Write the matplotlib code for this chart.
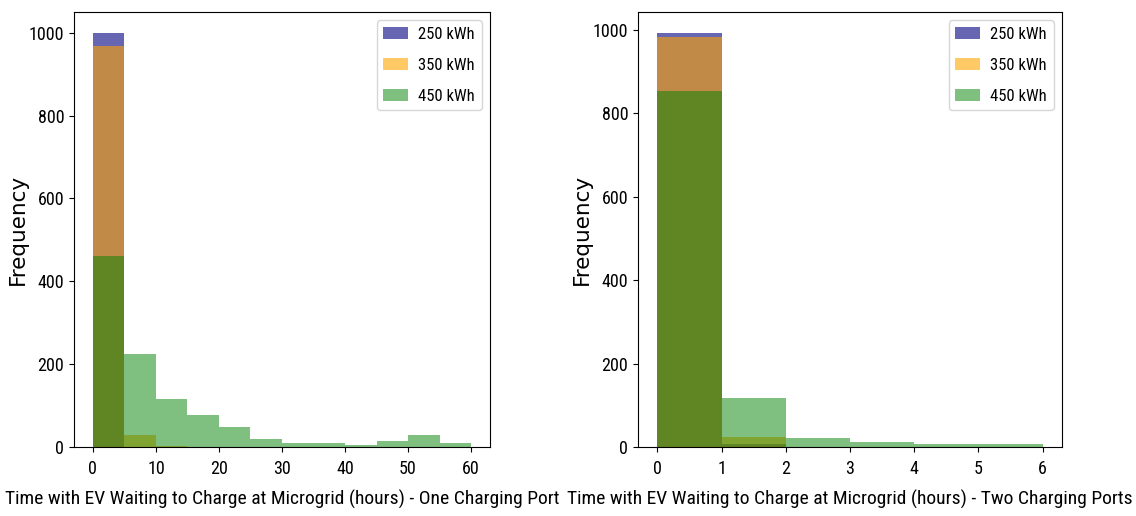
import numpy as np
import matplotlib.pyplot as plt

# histogram counts per bin (one charging port, bins of 5 h)
edges_one = np.arange(0, 65, 5)
one_250 = [1000, 0, 0, 0, 0, 0, 0, 0, 0, 0, 0, 0]
one_350 = [968, 29, 3, 0, 0, 0, 0, 0, 0, 0, 0, 0]
one_450 = [460, 224, 116, 77, 48, 20, 9, 9, 4, 14, 29, 9]

# two charging ports, bins of 1 h
edges_two = np.arange(0, 7, 1)
two_250 = [993, 7, 0, 0, 0, 0]
two_350 = [983, 25, 0, 0, 0, 0]
two_450 = [854, 117, 21, 12, 7, 7]

labels = ['250 kWh', '350 kWh', '450 kWh']
colors = ['navy', 'orange', 'green']
alphas = [0.6, 0.6, 0.5]

narrow = ['Noto Sans Condensed', 'Roboto Condensed', 'Noto Sans']

fig = plt.figure(figsize=(11.36, 5.16), dpi=100)
ax1 = fig.add_axes([74/1136, 1 - 447/516, 416/1136, 435/516])
ax2 = fig.add_axes([638/1136, 1 - 447/516, 424/1136, 435/516])

panels = [
    (ax1, edges_one, [one_250, one_350, one_450],
     'Time with EV Waiting to Charge at Microgrid (hours) - One Charging Port'),
    (ax2, edges_two, [two_250, two_350, two_450],
     'Time with EV Waiting to Charge at Microgrid (hours) - Two Charging Ports'),
]

for ax, edges, series, xlab in panels:
    for counts, lab, c, a in zip(series, labels, colors, alphas):
        ax.hist(edges[:-1], bins=edges, weights=counts, color=c, alpha=a, label=lab)
    ax.set_xlabel(xlab, fontsize=14, family=narrow, stretch='condensed', labelpad=9)
    ax.set_ylabel('Frequency', fontsize=15.5, labelpad=1)
    ax.tick_params(axis='x', pad=5.5)
    for t in ax.get_xticklabels() + ax.get_yticklabels():
        t.set_fontsize(13)
        t.set_family(narrow)
        t.set_fontstretch('condensed')
    ax.legend(loc='upper right', labelspacing=0.95, handlelength=1.5,
              handletextpad=0.6,
              prop=dict(size=12, family=narrow, stretch='condensed'))

fig.savefig('out.png', dpi=100)
